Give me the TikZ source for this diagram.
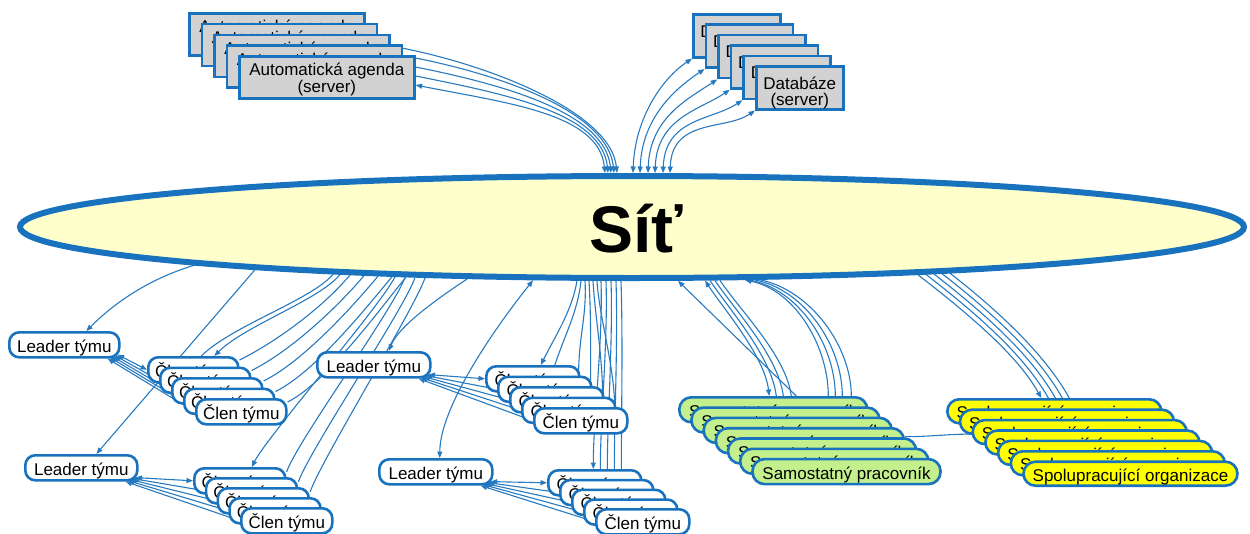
\documentclass[tikz,border=0pt]{standalone}
\usepackage{fontspec}
\setmainfont{Liberation Sans}
\usetikzlibrary{arrows.meta,shapes.geometric,calc}
\definecolor{bord}{RGB}{24,114,190}
\definecolor{lnk}{RGB}{40,122,192}
\definecolor{netfill}{RGB}{255,255,204}
\definecolor{srvfill}{RGB}{210,210,210}
\definecolor{grn}{RGB}{195,240,140}
\definecolor{yel}{RGB}{255,255,0}
\pgfdeclarelayer{bg}
\pgfsetlayers{bg,main}
\begin{document}
\begin{tikzpicture}[x=1pt,y=-1pt,
  basebox/.style={draw=bord,line width=2.6pt,inner sep=0pt,anchor=north west,align=center,font=\fontsize{17}{17}\selectfont},
  srvbox/.style={basebox,fill=srvfill},
  onerow/.style={basebox,text height=16pt,text depth=1pt},
  membox/.style={onerow,fill=white,rounded corners=10pt,minimum height=25pt},
  grnbox/.style={onerow,fill=grn,rounded corners=12pt,minimum width=188pt,minimum height=25pt},
  yelbox/.style={onerow,fill=yel,rounded corners=12pt,minimum width=214pt,minimum height=24pt},
  linkln/.style={draw=lnk,line width=1.1pt},
  tE/.style={-{Triangle[length=6.5pt,width=5pt]}},
  tS/.style={{Triangle[length=6.5pt,width=5pt]}-},
  tB/.style={{Triangle[length=6.5pt,width=5pt]}-{Triangle[length=6.5pt,width=5pt]}}
]
\useasboundingbox (0,0) rectangle (1250,533);

% network ellipse
\node[ellipse,draw=bord,line width=6pt,fill=netfill,minimum width=1224pt,minimum height=102pt,inner sep=0pt] (net) at (632,227) {};
\node[font=\fontsize{66}{70}\selectfont\bfseries,inner sep=0pt] (nettxt) at (636,229) {Síť};

% servers
\foreach \k in {0,...,4}
  \node[srvbox,minimum width=175pt,minimum height=42pt] (ag\k) at ({188+12.5*\k},{12+10.75*\k}) {\rule{0pt}{17.6pt}Automatická agenda\\(server)};
\foreach \k in {0,...,5}
  \node[srvbox,minimum width=87pt,minimum height=43pt,font=\fontsize{17}{16}\selectfont] (db\k) at ({692+12.6*\k},{13+10.4*\k}) {\rule{0pt}{22pt}Databáze\\(server)};

% teams
\node[membox,minimum width=110pt] (la) at (8,331) {Leader týmu};
\foreach \k in {0,...,4}
  \node[membox,minimum width=90pt] (ma\k) at ({147+12*\k},{356+10.5*\k}) {Člen týmu};
\node[membox,minimum width=112pt] (lb) at (24,454) {Leader týmu};
\foreach \k in {0,...,4}
  \node[membox,minimum width=91pt] (mb\k) at ({193+11.75*\k},{467+10*\k}) {Člen týmu};
\node[membox,minimum width=113pt] (lc) at (316,351) {Leader týmu};
\foreach \k in {0,...,4}
  \node[membox,minimum width=93pt] (mc\k) at ({485+12*\k},{365+10.5*\k}) {Člen týmu};
\node[membox,minimum width=113pt] (ld) at (378,458) {Leader týmu};
\foreach \k in {0,...,4}
  \node[membox,minimum width=93pt] (md\k) at ({547+12*\k},{469+9.75*\k}) {Člen týmu};

% independent workers and partner organisations
\foreach \k in {0,...,6}
  \node[grnbox] (sp\k) at ({678+12.2*\k},{396+10.3*\k}) {Samostatný pracovník};
\foreach \k in {0,...,6}
  \node[yelbox] (so\k) at ({946+12.7*\k},{398+10.4*\k}) {Spolupracující organizace};

% attachment points on the ellipse border
\foreach \x in {195,255,333,340,350,364,378,392,406,395,405,415,425,467,533,577,581,585,589,593,597,601,606,611,616,621,678,705,710,715,720,745,750,755,760,918,926,934,942,950}
  \coordinate (eb\x) at ($(net.center)+({\x-632},{54*sqrt(1-((\x-632)/615)^2)})$);
\foreach \x in {605,608,611,614,617,633,640,648,655,663,670}
  \coordinate (et\x) at ($(net.center)+({\x-632},{-54*sqrt(1-((\x-632)/615)^2)})$);

\begin{pgfonlayer}{bg}
% agenda servers
\draw[linkln,tE] ([yshift=-4pt]ag3.north east) .. controls +(90,18) and +(-6,-60) .. (et617);
\draw[linkln,tE] ([yshift=-3pt]ag4.north east) .. controls +(90,18) and +(-6,-60) .. (et614);
\draw[linkln,tE] ([yshift=-12pt]ag4.north east) .. controls +(90,18) and +(-6,-60) .. (et611);
\draw[linkln,tE] ([yshift=-21pt]ag4.north east) .. controls +(90,18) and +(-6,-60) .. (et608);
\draw[linkln,tB] ([yshift=-30pt]ag4.north east) .. controls +(90,18) and +(-6,-60) .. (et605);
% databases
\foreach \k/\x in {0/633,1/640,2/648,3/655,4/663,5/670}
  \draw[linkln,tB] (et\x) .. controls +(2,-55) and +(-30,20) .. (db\k.south west);

% team A
\draw[linkln,tE] (eb195) .. controls +(-50,15) and +(25,-25) .. ([xshift=22pt]la.north);
\draw[linkln,tB] ($(la.south east)+(-3,-4)$) -- (ma0.west);
\foreach \k in {1,...,4}
  \draw[linkln,tS] ($(la.south east)+({-3-2.5*\k},{-4+\k})$) -- (ma\k.west);
\draw[linkln] ([xshift=8pt]ma0.north) .. controls +(30,-30) and +(-20,25) .. (eb333);
\draw[linkln,tS] ([xshift=21pt]ma0.north) .. controls +(30,-30) and +(-20,25) .. (eb340);
\foreach \k/\x in {0/350,1/364,2/378,3/392,4/406}
  \draw[linkln] ([yshift=-4pt]ma\k.north east) .. controls +(40,-20) and +(-25,30) .. (eb\x);

% team B
\draw[linkln,tE] (eb255) -- ([xshift=15pt]lb.north);
\draw[linkln,tB] ($(lb.south east)+(-3,-4)$) -- (mb0.west);
\foreach \k in {1,...,4}
  \draw[linkln,tS] ($(lb.south east)+({-3-2.5*\k},{-4+\k})$) -- (mb\k.west);
\draw[linkln,tE] (eb395) .. controls +(-15,30) and +(15,-30) .. ([xshift=12pt]mb0.north);
\foreach \k/\x in {0/405,1/415,2/425}
  \draw[linkln] (eb\x) .. controls +(-10,30) and +(10,-30) .. ([yshift=-5pt]mb\k.north east);

% team C
\draw[linkln,tE] (eb467) .. controls +(-30,20) and +(10,-25) .. ([xshift=15pt]lc.north);
\draw[linkln,tB] ($(lc.south east)+(-3,-4)$) -- (mc0.west);
\foreach \k in {1,...,4}
  \draw[linkln,tS] ($(lc.south east)+({-3-2.5*\k},{-4+\k})$) -- (mc\k.west);
\draw[linkln,tE] (eb577) .. controls +(-5,30) and +(15,-30) .. ([xshift=8pt]mc0.north);
\draw[linkln] (eb581) .. controls +(-3,30) and +(10,-30) .. ([xshift=22pt]mc0.north);
\foreach \k/\x in {1/585,2/589,3/593,4/597}
  \draw[linkln] (eb\x) .. controls +(2,35) and +(0,-40) .. ([xshift=-14pt]mc\k.north east);
\draw[linkln,tE] (eb601) .. controls +(2,60) and +(0,-50) .. ([xshift=-1.5pt]md0.north);
\foreach \i/\x in {1/606,2/611,3/616,4/621}
  \draw[linkln] (eb\x) .. controls +(2,60) and +(0,-50) .. ([xshift={-1.5pt+7pt*\i}]md0.north);

% team D
\draw[linkln,tB] (eb533) .. controls +(-40,50) and +(0,-50) .. ([xshift=4pt]ld.north);
\draw[linkln,tB] ($(ld.south east)+(-3,-4)$) -- (md0.west);
\foreach \k in {1,...,4}
  \draw[linkln,tS] ($(ld.south east)+({-3-2.5*\k},{-4+\k})$) -- (md\k.west);

% independent workers
\draw[linkln,tS] (eb678) -- ([xshift=23pt]sp0.north);
\draw[linkln,tB] (eb705) .. controls +(20,30) and +(-5,-40) .. ([xshift=-4pt]sp0.north);
\foreach \x/\s in {710/3,715/10,720/18}
  \draw[linkln] (eb\x) .. controls +(20,30) and +(-5,-40) .. ([xshift=\s pt]sp0.north);
\draw[linkln,tS] (eb745) .. controls +(50,10) and +(0,-50) .. ([xshift=55pt]sp0.north);
\foreach \x/\s in {750/62,755/69,760/78}
  \draw[linkln] (eb\x) .. controls +(50,10) and +(0,-50) .. ([xshift=\s pt]sp0.north);
\draw[linkln] ([yshift=4pt]sp3.east) .. controls +(25,0) and +(-25,0) .. ([yshift=-2pt]so2.west);

% partner organisations
\draw[linkln,tE] (eb918) .. controls +(45,35) and +(-25,-45) .. ([xshift=-13pt]so0.north);
\foreach \x/\s in {926/-6,934/1,942/8,950/15}
  \draw[linkln] (eb\x) .. controls +(45,35) and +(-25,-45) .. ([xshift=\s pt]so0.north);
\end{pgfonlayer}
\end{tikzpicture}
\end{document}
